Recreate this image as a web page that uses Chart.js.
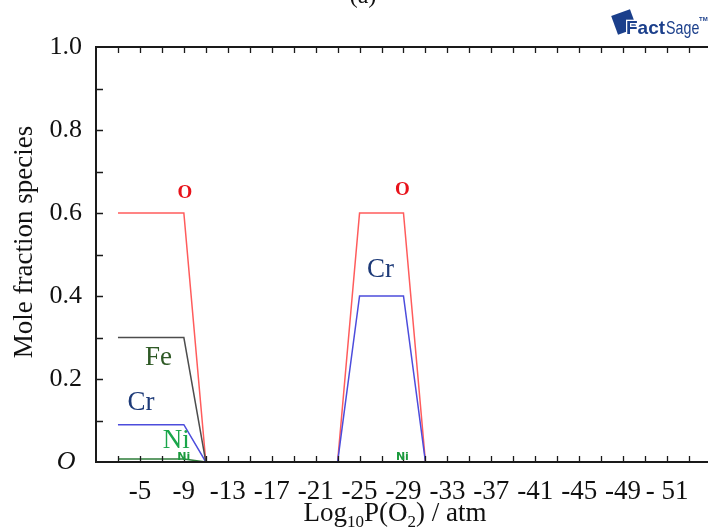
<!DOCTYPE html>
<html>
<head>
<meta charset="utf-8">
<script src="https://cdn.jsdelivr.net/npm/chart.js@4.4.1/dist/chart.umd.min.js"></script>
<style>
  html, body { margin: 0; padding: 0; background: #fff; }
  #wrap { width: 708px; height: 530px; }
</style>
</head>
<body>
<div id="wrap"><canvas id="myChart" width="708" height="530"></canvas></div>
<script>
'use strict';
// log10 P(O2) breakpoints and mole fractions
const logP = [-3, -9, -11, -23, -25, -29, -31];
const oxygen = [0.6, 0.6, 0, 0, 0.6, 0.6, 0];
const chromium = [0.09, 0.09, 0, 0, 0.4, 0.4, 0];
const iron = [0.30, 0.30, 0, null, null, null, null];
const nickel = [0.007, 0.007, 0, null, null, null, null];

const xTickValues = [-5, -9, -13, -17, -21, -25, -29, -33, -37, -41, -45, -49, -53];
const xTickLabels = ['-5', '-9', '-13', '-17', '-21', '-25', '-29', '-33', '-37', '-41', '-45', '-49', '- 51'];
const yTickValues = [0, 0.2, 0.4, 0.6, 0.8, 1.0];
const yTickLabels = ['O ', '0.2', '0.4', '0.6', '0.8', '1.0'];

// in-plot species labels (data coordinates)
const noteText = ['O', 'O', 'Cr', 'Fe', 'Cr', 'Ni', 'Ni', 'Ni'];
const noteX = [-9.1, -28.9, -26.9, -6.7, -5.1, -8.3, -9.0, -28.9];
const noteY = [0.648, 0.655, 0.463, 0.251, 0.142, 0.051, 0.012, 0.012];

const xMin = -56.73;
const xMax = -1;
const serif = "'Liberation Serif', 'Times New Roman', serif";

function pts(values) {
  return logP.map((v, i) => ({ x: v, y: values[i] }));
}

function labelFor(values, labels, v) {
  for (let i = 0; i < values.length; i++) {
    if (Math.abs(values[i] - v) < 1e-6) return labels[i];
  }
  return '';
}

const frame = {
  id: 'frame',
  afterDatasetsDraw(chart) {
    const { ctx, chartArea: a, scales: { x, y } } = chart;
    ctx.save();
    // axes box (no right side, it runs off the picture)
    ctx.strokeStyle = '#1a1a1a';
    ctx.lineWidth = 2;
    ctx.beginPath();
    ctx.moveTo(a.right, a.top);
    ctx.lineTo(a.left, a.top);
    ctx.lineTo(a.left, a.bottom);
    ctx.lineTo(a.right, a.bottom);
    ctx.stroke();

    // inward tick marks
    ctx.lineWidth = 1.3;
    ctx.beginPath();
    for (let v = xMax - 2; v >= xMin; v -= 2) {
      const px = Math.round(x.getPixelForValue(v)) + 0.5;
      ctx.moveTo(px, a.bottom);
      ctx.lineTo(px, a.bottom - 6);
      ctx.moveTo(px, a.top);
      ctx.lineTo(px, a.top + 6);
    }
    for (let k = 1; k < 10; k++) {
      const py = Math.round(y.getPixelForValue(k / 10)) + 0.5;
      ctx.moveTo(a.left, py);
      ctx.lineTo(a.left + 7, py);
    }
    ctx.stroke();

    // species labels
    ctx.textAlign = 'center';
    ctx.textBaseline = 'middle';
    for (let i = 0; i < noteText.length; i++) {
      const px = x.getPixelForValue(noteX[i]);
      const py = y.getPixelForValue(noteY[i]);
      if (noteText[i] === 'O') {
        ctx.fillStyle = '#e8121a';
        ctx.font = 'bold 19px ' + serif;
      } else if (noteText[i] === 'Cr') {
        ctx.fillStyle = '#1d3a78';
        ctx.font = '27px ' + serif;
      } else if (noteText[i] === 'Fe') {
        ctx.fillStyle = '#2f5a26';
        ctx.font = '27px ' + serif;
      } else if (noteY[i] > 0.03) {
        ctx.fillStyle = '#1aa64a';
        ctx.font = '27px ' + serif;
      } else {
        ctx.fillStyle = '#1a9a3c';
        ctx.font = 'bold 11px "DejaVu Sans", sans-serif';
      }
      ctx.fillText(noteText[i], px, py);
    }
    ctx.restore();
  },
  afterDraw(chart) {
    const { ctx } = chart;
    ctx.save();
    ctx.fillStyle = '#111';

    // y title
    ctx.save();
    ctx.translate(25, 242);
    ctx.rotate(-Math.PI / 2);
    ctx.font = '27px ' + serif;
    ctx.textAlign = 'center';
    ctx.textBaseline = 'middle';
    ctx.fillText('Mole fraction species', 0, 0);
    ctx.restore();

    // x title with subscripts
    const parts = [['Log', false], ['10', true], ['P(O', false], ['2', true], [') / atm', false]];
    const big = '27px ' + serif;
    const small = '17px ' + serif;
    let total = 0;
    parts.forEach(p => { ctx.font = p[1] ? small : big; total += ctx.measureText(p[0]).width; });
    let cx = 395 - total / 2;
    ctx.textAlign = 'left';
    ctx.textBaseline = 'alphabetic';
    parts.forEach(p => {
      ctx.font = p[1] ? small : big;
      ctx.fillText(p[0], cx, p[1] ? 527 : 521);
      cx += ctx.measureText(p[0]).width;
    });

    // panel letter, mostly cut off at the top
    ctx.font = '24px ' + serif;
    ctx.textAlign = 'center';
    ctx.fillText('(a)', 363, 3);

    // FactSage logo
    ctx.save();
    ctx.translate(624, 22);
    ctx.rotate(-0.35);
    ctx.fillStyle = '#1b3f8b';
    ctx.fillRect(-10, -10, 20, 20);
    ctx.restore();
    ctx.textAlign = 'left';
    ctx.font = 'bold 19px "Liberation Sans", Arial, sans-serif';
    ctx.lineWidth = 2.5;
    ctx.strokeStyle = '#fff';
    ctx.strokeText('Fact', 626, 34);
    ctx.fillStyle = '#1b3f8b';
    ctx.fillText('Fact', 626, 34);
    const fw = ctx.measureText('Fact').width;
    ctx.save();
    ctx.translate(626 + fw + 1, 34);
    ctx.scale(0.75, 1);
    ctx.font = '19px "Liberation Sans", Arial, sans-serif';
    ctx.fillText('Sage', 0, 0);
    const sw = ctx.measureText('Sage').width * 0.75;
    ctx.restore();
    ctx.font = 'bold 6px "Liberation Sans", sans-serif';
    ctx.fillText('TM', Math.min(626 + fw + sw + 2, 699), 21);
    ctx.restore();
  }
};

const ctx = document.getElementById('myChart').getContext('2d');
const chart = new Chart(ctx, {
  type: 'line',
  data: {
    datasets: [
      { label: 'Ni', data: pts(nickel), borderColor: '#2e7d3a', borderWidth: 1.5 },
      { label: 'Fe', data: pts(iron), borderColor: '#4d4d4d', borderWidth: 1.5 },
      { label: 'Cr', data: pts(chromium), borderColor: '#4c4cdc', borderWidth: 1.5 },
      { label: 'O', data: pts(oxygen), borderColor: '#ff5c5c', borderWidth: 1.5 }
    ]
  },
  options: {
    responsive: false,
    animation: false,
    events: [],
    elements: { point: { radius: 0 }, line: { tension: 0 } },
    layout: { padding: { top: 47, right: 0, left: 0, bottom: 0 } },
    plugins: { legend: { display: false }, tooltip: { enabled: false } },
    scales: {
      x: {
        type: 'linear',
        reverse: true,
        min: xMin,
        max: xMax,
        grid: { display: false, drawTicks: false },
        border: { display: false },
        afterBuildTicks: s => { s.ticks = xTickValues.map(v => ({ value: v })); },
        afterFit: s => { s.height = 68; },
        ticks: {
          autoSkip: false,
          maxRotation: 0,
          padding: 14,
          color: '#111',
          font: { family: serif, size: 27 },
          callback: v => labelFor(xTickValues, xTickLabels, v)
        }
      },
      y: {
        min: 0,
        max: 1,
        grid: { display: false, drawTicks: false },
        border: { display: false },
        afterBuildTicks: s => { s.ticks = yTickValues.map(v => ({ value: v })); },
        afterFit: s => { s.width = 96; },
        ticks: {
          autoSkip: false,
          padding: 14,
          color: '#111',
          font: c => ({ family: serif, size: 26, style: c.tick && c.tick.value === 0 ? 'italic' : 'normal' }),
          callback: v => labelFor(yTickValues, yTickLabels, v)
        }
      }
    }
  },
  plugins: [frame]
});
</script>
</body>
</html>
